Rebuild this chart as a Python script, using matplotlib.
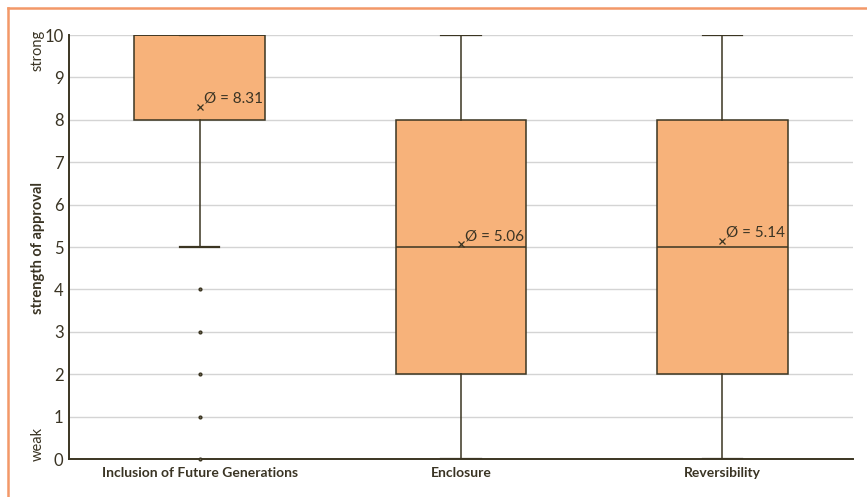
import matplotlib
matplotlib.use("Agg")
import matplotlib.pyplot as plt
from matplotlib.lines import Line2D

categories = ["Inclusion of Future Generations", "Enclosure", "Reversibility"]
q1 = [8, 2, 2]
median = [10, 5, 5]
q3 = [10, 8, 8]
whisker_low = [5, 0, 0]
whisker_high = [10, 10, 10]
outliers = [[0, 1, 2, 3, 4], [], []]
means = [8.31, 5.06, 5.14]
yticks = list(range(0, 11))

plt.rcParams['font.family'] = ['Lato', 'DejaVu Sans']
txt = "#3a3424"
edge = "#3b3522"
fill = "#f7b27a"

fig = plt.figure(figsize=(8.67, 4.97), dpi=100)
ax = fig.add_axes([69/867, 1-459/497, (853-69)/867, (459-35)/497])

stats = []
for i, c in enumerate(categories):
    stats.append(dict(label=c, q1=q1[i], med=median[i], q3=q3[i],
                      whislo=whisker_low[i], whishi=whisker_high[i],
                      fliers=outliers[i], mean=means[i]))

pos = list(range(len(categories)))
res = ax.bxp(stats, positions=pos, widths=0.5, patch_artist=True, showmeans=False,
       boxprops=dict(facecolor=fill, edgecolor=edge, linewidth=1.1),
       medianprops=dict(color=edge, linewidth=1.1),
       whiskerprops=dict(color=edge, linewidth=1.1),
       capprops=dict(color=edge, linewidth=1.6),
       capwidths=0.15,
       flierprops=dict(marker='o', markersize=2, markerfacecolor="#6b6550",
                       markeredgecolor=edge, linestyle='none'))
for fl in res['fliers']:
    fl.set_zorder(6)
    fl.set_clip_on(False)

for i, m in enumerate(means):
    ax.plot(pos[i], m, marker='x', color=edge, markersize=4, markeredgewidth=0.9, zorder=5)
    ax.annotate(f"Ø = {m:.2f}", (pos[i], m), xytext=(3, 1), textcoords='offset points',
                fontsize=11, color=txt, va='bottom', ha='left', zorder=6)

ax.set_xlim(-0.5, 2.5)
ax.set_ylim(0, 10)
ax.set_yticks(yticks)
ax.set_yticklabels([str(t) for t in yticks], fontsize=12, color=txt)
ax.set_xticks(pos)
ax.set_xticklabels(categories, fontsize=10, fontweight='bold', color=txt)
ax.tick_params(axis='x', length=0, pad=6)
ax.tick_params(axis='y', length=0, pad=4)
ax.grid(axis='y', color="#d4d4d4", linewidth=1.0)
ax.set_axisbelow(True)
for s in ['top', 'right']:
    ax.spines[s].set_visible(False)
for s in ['left', 'bottom']:
    ax.spines[s].set_color(edge)
    ax.spines[s].set_linewidth(1.4)

fig.text(38/867, 1-50/497, "strong", rotation=90, ha='center', va='center', fontsize=10.5, color=txt)
fig.text(38/867, 1-444/497, "weak", rotation=90, ha='center', va='center', fontsize=10.5, color=txt)
fig.text(38/867, 1-248/497, "strength of approval", rotation=90, ha='center', va='center',
         fontsize=10.5, fontweight='bold', color=txt)

orange = "#f39868"
fig.add_artist(Line2D([8/867, 1], [1-8/497, 1-8/497], color=orange, linewidth=1.8, transform=fig.transFigure))
fig.add_artist(Line2D([8/867, 8/867], [0, 1-8/497], color=orange, linewidth=1.8, transform=fig.transFigure))

fig.savefig("out.png", dpi=100)
